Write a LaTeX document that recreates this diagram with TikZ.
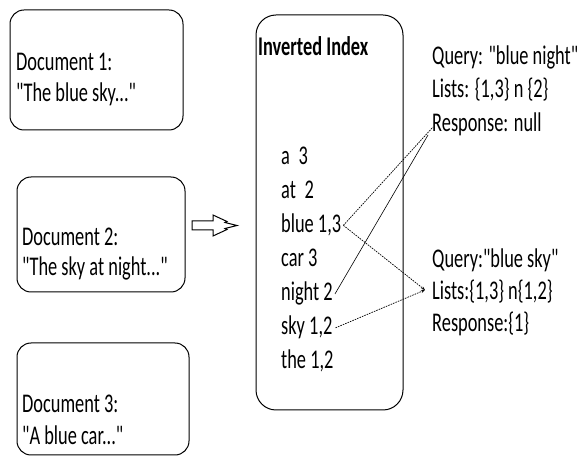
\documentclass[tikz,border=0pt]{standalone}
\usepackage{fontspec}
\setmainfont{Carlito}[FakeStretch=0.68, Ligatures=TeXOff]
\usetikzlibrary{arrows.meta}
\begin{document}
\begin{tikzpicture}[x=1pt,y=-1pt,
  box/.style={draw, line width=1pt, rounded corners=14pt, inner sep=0pt},
  txt/.style={anchor=base west, inner sep=0pt, font=\fontsize{27}{31}\selectfont},
  link/.style={dash pattern=on 1.6pt off 1pt, line width=0.7pt},
  plain/.style={line width=0.6pt}]
\useasboundingbox[fill=white] (0,0) rectangle (582,457);
% document boxes
\node[box, minimum width=173, minimum height=120] (d1) at (96.5,70) {};
\node[box, minimum width=168, minimum height=115] (d2) at (101,234.5) {};
\node[box, minimum width=172, minimum height=112] (d3) at (103,399) {};
\node[txt] (d1a) at (16,71) {Document 1:};
\node[txt] (d1b) at (16,102) {"The blue sky..."};
\node[txt] (d2a) at (22,246) {Document 2:};
\node[txt] (d2b) at (22,276) {"The sky at night..."};
\node[txt] (d3a) at (22,413) {Document 3:};
\node[txt] (d3b) at (22,445) {"A blue car..."};
% block arrow
\draw[line width=1pt, line join=miter] (192,221) -- (213,221) -- (213,215) -- (227,221.5) -- (225,222.5) -- (237,225.5) -- (225,228.5) -- (227,229.5) -- (213,236) -- (213,230) -- (192,230) -- cycle;
% index box
\node[box, rounded corners=20pt, minimum width=147, minimum height=395] (idx) at (329.5,212.5) {};
\node[txt, font=\fontsize{27}{31}\selectfont\bfseries] (title) at (258,56) {Inverted Index};
\node[txt] (a) at (281,165) {a\, 3};
\node[txt] (at) at (281,199) {at\, 2};
\node[txt] (blue) at (281,233) {blue 1,3};
\node[txt] (car) at (281,267) {car 3};
\node[txt] (night) at (281,301) {night 2};
\node[txt] (sky) at (281,335) {sky 1,2};
\node[txt] (the) at (281,369) {the 1,2};
% queries
\node[txt] (q1a) at (432,65) {Query: "blue night"};
\node[txt] (q1b) at (432,98) {Lists: \{1,3\} n \{2\}};
\node[txt] (q1c) at (432,132) {Response: null};
\node[txt] (q2a) at (432,268) {Query:"blue sky"};
\node[txt] (q2b) at (432,300) {Lists:\{1,3\} n\{1,2\}};
\node[txt] (q2c) at (432,332) {Response:\{1\}};
% link endpoints
\coordinate (e1) at (433,127);
\coordinate (e2) at (428,135);
\coordinate (e3) at (425,290);
\draw[link] ([xshift=2pt]blue.east) -- (e1);
\draw[plain] ([xshift=2pt]night.east) -- (e2);
\draw[link, -{Stealth[length=4pt,width=3pt]}] ([xshift=2pt]blue.east) -- (e3);
\draw[link, -{Stealth[length=4pt,width=3pt]}] ([xshift=3pt]sky.east) -- (e3);
\end{tikzpicture}
\end{document}
